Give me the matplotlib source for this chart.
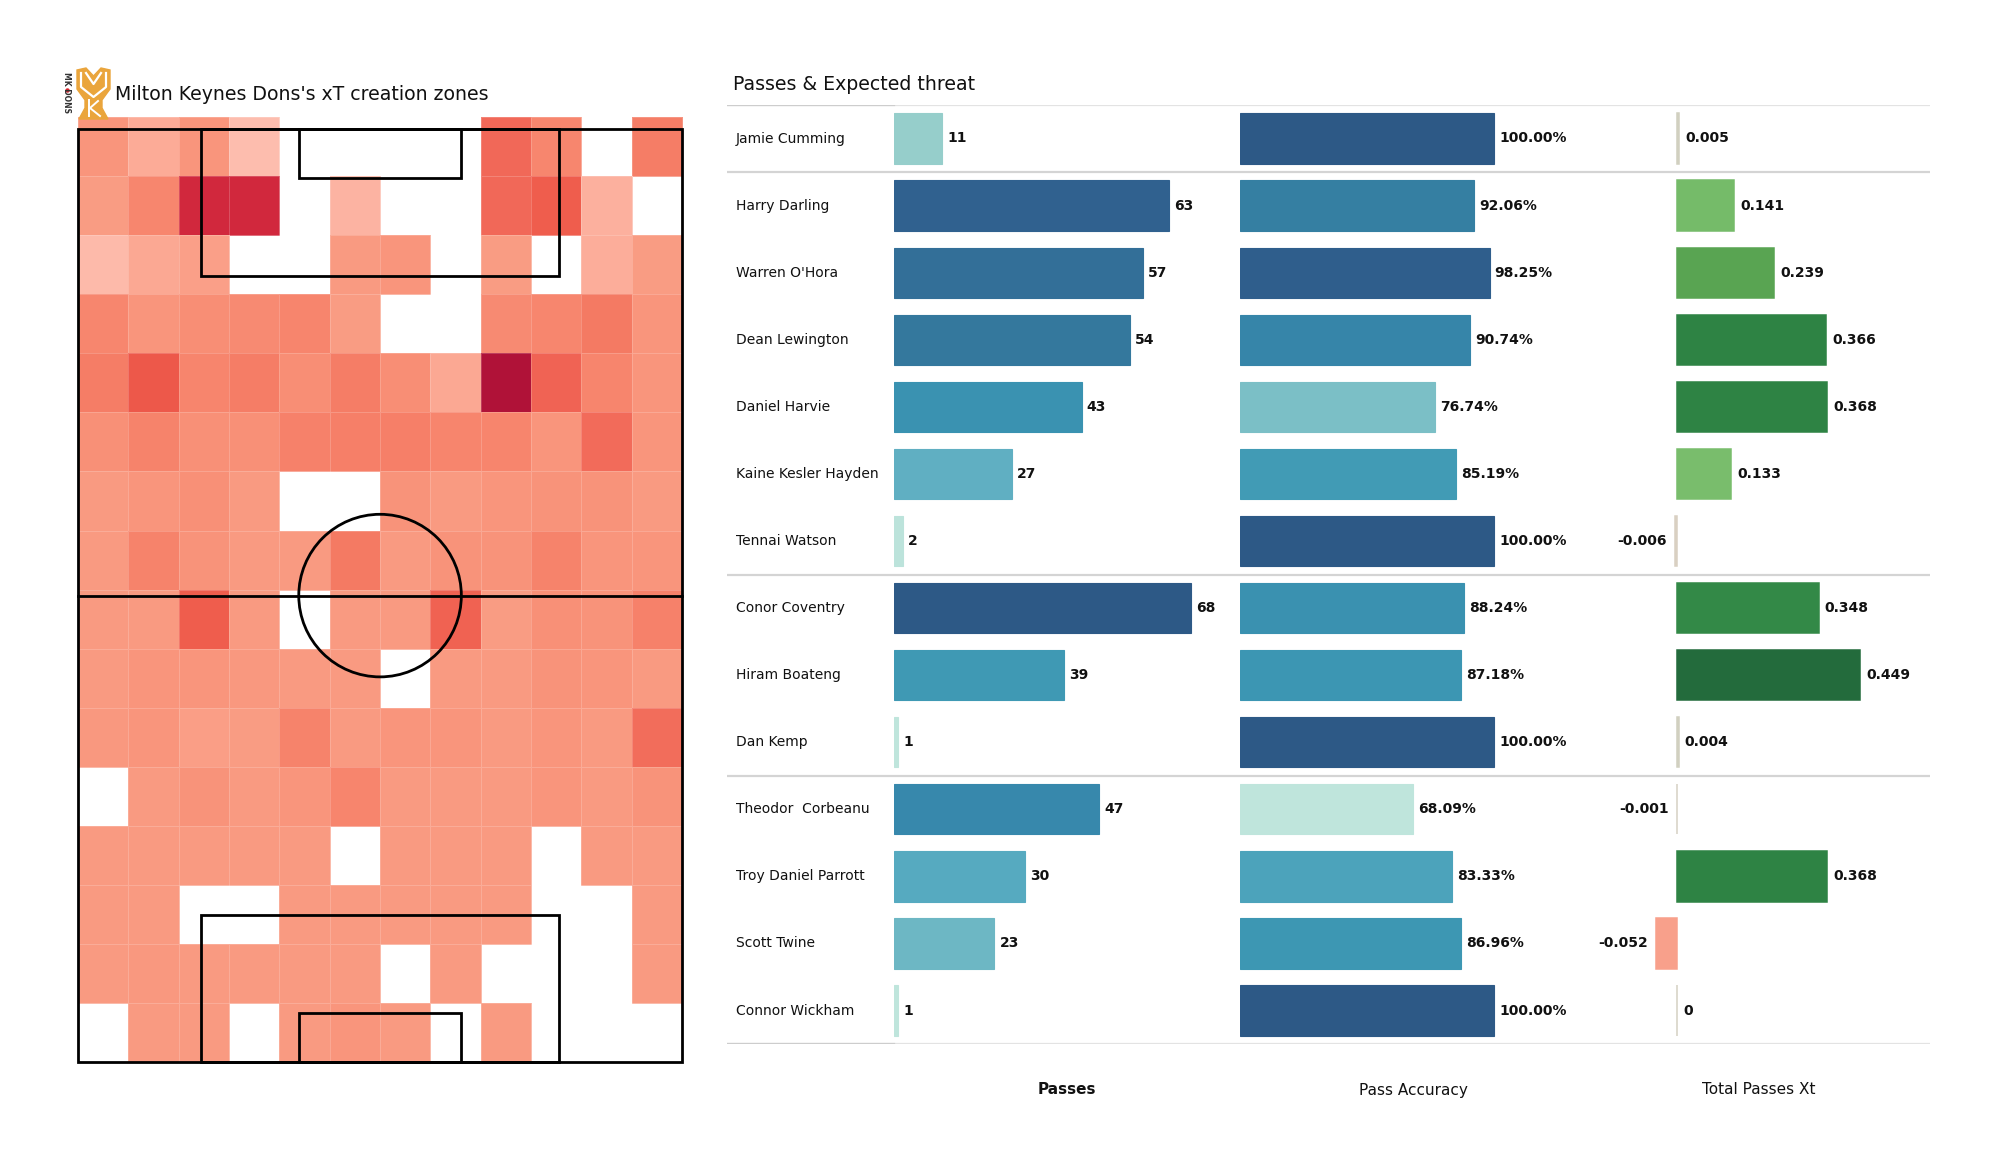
import numpy as np
import matplotlib.pyplot as plt
from matplotlib.colors import LinearSegmentedColormap, Normalize, TwoSlopeNorm
from matplotlib.patches import Rectangle, Circle, Polygon

W, H = 2000, 1175  # output size in px

# ---- passing table
players = ['Jamie Cumming', 'Harry Darling', "Warren O'Hora", 'Dean Lewington',
           'Daniel Harvie', 'Kaine Kesler Hayden', 'Tennai Watson', 'Conor Coventry',
           'Hiram Boateng', 'Dan Kemp', 'Theodor  Corbeanu', 'Troy Daniel Parrott',
           'Scott Twine', 'Connor Wickham']
positions = ['GK', 'DF', 'DF', 'DF', 'DF', 'DF', 'DF',
             'MF', 'MF', 'MF', 'FW', 'FW', 'FW', 'FW']
passes = [11, 63, 57, 54, 43, 27, 2, 68, 39, 1, 47, 30, 23, 1]
accuracy = [100.00, 92.06, 98.25, 90.74, 76.74, 85.19, 100.00,
            88.24, 87.18, 100.00, 68.09, 83.33, 86.96, 100.00]
passes_xt = [0.005, 0.141, 0.239, 0.366, 0.368, 0.133, -0.006,
             0.348, 0.449, 0.004, -0.001, 0.368, -0.052, 0]
col_titles = ['Passes', 'Pass Accuracy', 'Total Passes Xt']

# ---- xT creation zones: 16 rows (top = attacking goal) x 12 columns, nan = empty
nan = np.nan
xt_zones = np.array([
    [0.45, 0.33, 0.45, 0.22, nan, nan, nan, nan, 0.70, 0.52, nan, 0.58],
    [0.42, 0.52, 0.90, 0.90, nan, 0.28, nan, nan, 0.70, 0.75, 0.30, nan],
    [0.24, 0.35, 0.40, nan, nan, 0.43, 0.45, nan, 0.42, nan, 0.32, 0.42],
    [0.52, 0.45, 0.48, 0.50, 0.53, 0.42, nan, nan, 0.50, 0.52, 0.60, 0.45],
    [0.58, 0.77, 0.53, 0.58, 0.48, 0.58, 0.48, 0.35, 1.00, 0.72, 0.53, 0.45],
    [0.47, 0.54, 0.47, 0.47, 0.55, 0.56, 0.56, 0.53, 0.53, 0.45, 0.68, 0.45],
    [0.43, 0.45, 0.47, 0.43, nan, nan, 0.46, 0.43, 0.45, 0.46, 0.46, 0.43],
    [0.43, 0.54, 0.46, 0.43, 0.43, 0.60, 0.43, 0.46, 0.46, 0.54, 0.45, 0.45],
    [0.43, 0.43, 0.75, 0.43, nan, 0.43, 0.43, 0.73, 0.42, 0.47, 0.46, 0.55],
    [0.43, 0.45, 0.45, 0.44, 0.43, 0.43, nan, 0.43, 0.43, 0.46, 0.45, 0.43],
    [0.44, 0.45, 0.41, 0.42, 0.54, 0.43, 0.45, 0.45, 0.43, 0.45, 0.43, 0.67],
    [nan, 0.43, 0.46, 0.43, 0.45, 0.53, 0.43, 0.43, 0.43, 0.45, 0.43, 0.46],
    [0.43, 0.43, 0.43, 0.43, 0.43, nan, 0.43, 0.43, 0.43, nan, 0.43, 0.43],
    [0.43, 0.43, nan, nan, 0.43, 0.43, 0.43, 0.43, 0.43, nan, nan, 0.43],
    [0.43, 0.44, 0.43, 0.43, 0.43, 0.43, nan, 0.43, nan, nan, nan, 0.43],
    [nan, 0.43, 0.43, nan, 0.43, 0.45, 0.43, nan, 0.43, nan, nan, nan],
])

heat_cmap = LinearSegmentedColormap.from_list('heat', [
    (0.0, '#fee3d9'), (0.22, '#fdbdae'), (0.33, '#fcab97'), (0.43, '#f99a81'),
    (0.48, '#f88e75'), (0.55, '#f6816a'), (0.6, '#f47a63'), (0.7, '#f16858'),
    (0.77, '#ee594a'), (0.9, '#d2283d'), (1.0, '#b01238')])
blue_cmap = LinearSegmentedColormap.from_list('blues', [
    (0.0, '#bfe5dc'), (0.15, '#96cecb'), (0.3, '#74bbc5'), (0.43, '#56aac0'),
    (0.53, '#429cb5'), (0.6, '#3c96b3'), (0.7, '#3686ab'), (0.78, '#347b9e'),
    (0.84, '#336e98'), (0.93, '#30608e'), (1.0, '#2d5986')])
xt_cmap = LinearSegmentedColormap.from_list('xt', [
    (0.0, '#f8a08b'), (0.4, '#dccfc2'), (0.5, '#d5d1c3'), (0.648, '#78bd6b'),
    (0.766, '#5aa552'), (0.8875, '#348a47'), (0.908, '#2e8344'), (1.0, '#236b3c')])


def fig_box(x0, y0, x1, y1):
    # pixel box (origin top-left) -> [left, bottom, width, height]
    return [x0 / W, 1 - y1 / H, (x1 - x0) / W, (y1 - y0) / H]


def fig_xy(x, y):
    return x / W, 1 - y / H


fig = plt.figure(figsize=(20, 11.75), dpi=100)
fig.patch.set_facecolor('white')

# ---------------- pitch (UEFA 105 x 68, vertical)
s = 8.884  # px per metre
px0, py0 = 78, 1062  # px of pitch bottom-left corner
ax_p = fig.add_axes(fig_box(px0 - 1 * s, py0 - 107.5 * s, px0 + 69 * s, py0 + 1 * s))
ax_p.set_xlim(-1, 69)
ax_p.set_ylim(-1, 107.5)
ax_p.axis('off')

x_edges = np.linspace(0, 68, xt_zones.shape[1] + 1)
y_edges = np.linspace(106.35, 0, xt_zones.shape[0] + 1)
ax_p.pcolormesh(x_edges, y_edges, xt_zones, cmap=heat_cmap, vmin=0, vmax=1,
                edgecolors='#ffffff30', linewidth=0.5, zorder=1)

line_kw = dict(fill=False, lw=2, ec='black', zorder=3)
ax_p.add_patch(Rectangle((0, 0), 68, 105, **line_kw))
ax_p.plot([0, 68], [52.5, 52.5], color='black', lw=2, zorder=3)
ax_p.add_patch(Circle((34, 52.5), 9.15, **line_kw))
for y0, d in [(0, 1), (105, -1)]:
    ax_p.add_patch(Rectangle((13.84, y0), 40.32, 16.5 * d, **line_kw))
    ax_p.add_patch(Rectangle((24.84, y0), 18.32, 5.5 * d, **line_kw))

fig.text(*fig_xy(115, 94), "Milton Keynes Dons's xT creation zones",
         fontsize=13.6, ha='left', va='center', color='#111111')

# small club badge
ax_l = fig.add_axes(fig_box(58, 64, 116, 122))
ax_l.set_xlim(0, 58)
ax_l.set_ylim(58, 0)
ax_l.axis('off')
gold = '#eaa53c'
ax_l.add_patch(Polygon([(19, 6), (28, 4), (35.5, 12), (43, 4), (52, 6), (52, 25),
                        (44, 36), (44, 44), (50, 55), (21, 55), (27, 44), (27, 36),
                        (19, 25)], closed=True, fc=gold, ec=gold, lw=1))
ax_l.plot([23, 23, 35.5, 48, 48], [9, 23, 33, 23, 9], color='white', lw=1.6)
ax_l.plot([28, 35.5, 43], [9, 20, 9], color='white', lw=1.6)
ax_l.plot([31, 31], [36, 52], color='white', lw=1.4)
ax_l.plot([40, 32, 42], [37, 44, 52], color='white', lw=1.4)
ax_l.text(9, 28, 'MK DONS', rotation=270, fontsize=5.5, ha='center', va='center',
          color='#333333', fontweight='bold')
ax_l.plot(9, 25.5, 'o', color='#d8262e', ms=2.2)

# ---------------- table
n = len(players)
rows = np.arange(n)
row0, row_h = 138.5, 67.08  # px of first row centre, row spacing
y_top, y_bot = row0 - row_h / 2, row0 + (n - 0.5) * row_h
tab_x0, tab_x1 = 727, 1930
name_x1 = 894
col_w = 346


def col_ax(x0, x1, xlim):
    ax = fig.add_axes(fig_box(x0, y_top, x1, y_bot))
    ax.set_xlim(*xlim)
    ax.set_ylim(n - 0.5, -0.5)
    ax.axis('off')
    return ax


ax_bg = col_ax(tab_x0, tab_x1, (0, tab_x1 - tab_x0))
ax_bg.set_zorder(0)
for y in (-0.5, n - 0.5):
    ax_bg.plot([0, tab_x1 - tab_x0], [y, y], color='#e3e3e3', lw=1.6)
    ax_bg.plot([0, name_x1 - tab_x0], [y, y], color='#cdcdcd', lw=1.6)
for i in range(1, n):
    if positions[i] != positions[i - 1]:
        ax_bg.axhline(i - 0.5, color='#d4d4d4', lw=1.6)
for i, name in enumerate(players):
    ax_bg.text(9, i, name, fontsize=10, ha='left', va='center', color='#111111')

label_kw = dict(textcoords='offset points', va='center', fontsize=10,
                fontweight='bold', color='#111111')

# Passes
ax_pass = col_ax(name_x1, name_x1 + col_w, (0, col_w / 4.368))
pnorm = Normalize(min(passes), max(passes))
pcol = blue_cmap(pnorm(np.array(passes)))
ax_pass.barh(rows, passes, height=0.75, color=pcol, edgecolor=pcol, lw=0.8)
for i, v in enumerate(passes):
    ax_pass.annotate(str(v), (v, i), xytext=(3.6, 0), ha='left', **label_kw)

# Pass accuracy
ax_acc = col_ax(name_x1 + col_w, name_x1 + 2 * col_w, (0, col_w / 2.54))
anorm = Normalize(min(accuracy), max(accuracy))
acol = blue_cmap(anorm(np.array(accuracy)))
ax_acc.barh(rows, accuracy, height=0.75, color=acol, edgecolor=acol, lw=0.8)
for i, v in enumerate(accuracy):
    ax_acc.annotate(f'{v:.2f}%', (v, i), xytext=(3.6, 0), ha='left', **label_kw)

# Total passes xT
zero_x = 1677
scale_xt = 407.6
ax_xt = col_ax(name_x1 + 2 * col_w, tab_x1,
               (-(zero_x - name_x1 - 2 * col_w) / scale_xt, (tab_x1 - zero_x) / scale_xt))
xnorm = TwoSlopeNorm(vmin=min(passes_xt), vcenter=0, vmax=max(passes_xt))
xcol = xt_cmap(xnorm(np.array(passes_xt)))
ax_xt.barh(rows, passes_xt, height=0.75, color=xcol, edgecolor=xcol, lw=1.1)
for i, v in enumerate(passes_xt):
    if v < 0:
        ax_xt.annotate(f'{v:g}', (v, i), xytext=(-5.5, 0), ha='right', **label_kw)
    else:
        ax_xt.annotate(f'{v:g}', (v, i), xytext=(4.3, 0), ha='left', **label_kw)

fig.text(*fig_xy(733, 84), 'Passes & Expected threat', fontsize=13.6,
         ha='left', va='center', color='#111111')
for k, title in enumerate(col_titles):
    cx = name_x1 + col_w * (k + 0.5)
    fig.text(*fig_xy(cx, 1090), title, fontsize=11, ha='center', va='center',
             color='#111111', fontweight='bold' if k == 0 else 'normal')

fig.savefig('out.png', dpi=100, facecolor='white')
